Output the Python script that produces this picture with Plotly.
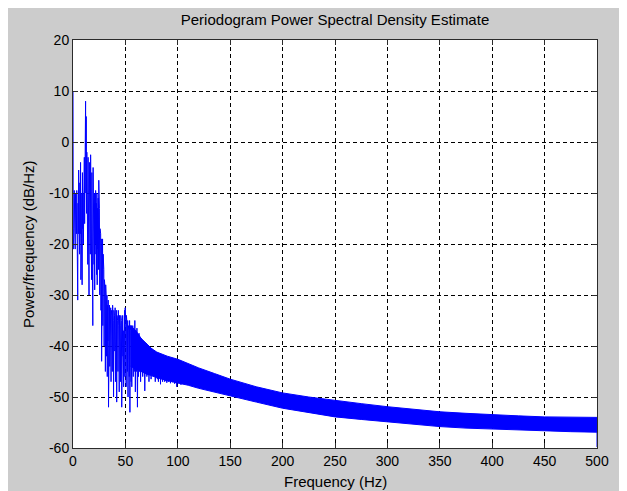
import plotly.graph_objects as go

# Low-frequency periodogram samples (Hz, dB/Hz)
lf_freq = [0.0, 0.3, 0.6, 0.9, 1.2, 1.5, 1.8, 2.1, 2.4, 2.7, 3.0, 3.3, 3.6, 3.9, 4.2, 4.5, 4.8, 5.1, 5.4, 5.7,
           6.0, 6.3, 6.6, 6.9, 7.2, 7.5, 7.8, 8.1, 8.4, 8.7, 9.0, 9.3, 9.6, 9.9, 10.2, 10.5, 10.8, 11.1, 11.4, 11.7,
           12.0, 12.3, 12.6, 12.9, 13.2, 13.5, 13.8, 14.1, 14.4, 14.7, 15.0, 15.3, 15.6, 15.9, 16.2, 16.5, 16.8, 17.1, 17.4, 17.7,
           18.0, 18.3, 18.6, 18.9, 19.2, 19.5, 19.8, 20.1, 20.4, 20.7, 21.0, 21.3, 21.6, 21.9, 22.2, 22.5, 22.8, 23.1, 23.4, 23.7,
           24.0, 24.3, 24.6, 24.9, 25.2, 25.5, 25.8, 26.1, 26.4, 26.7, 27.0, 27.3, 27.6, 27.9, 28.2, 28.5, 28.8, 29.1, 29.4, 29.7,
           30.0, 30.3, 30.6, 30.9, 31.2, 31.5, 31.8, 32.1, 32.4, 32.7, 33.0, 33.3, 33.6, 33.9, 34.2, 34.5, 34.8, 35.1, 35.4, 35.7,
           36.0, 36.3, 36.6, 36.9, 37.2, 37.5, 37.8, 38.1, 38.4, 38.7, 39.0, 39.3, 39.6, 39.9, 40.2, 40.5, 40.8, 41.1, 41.4, 41.7,
           42.0, 42.3, 42.6, 42.9, 43.2, 43.5, 43.8, 44.1, 44.4, 44.7, 45.0, 45.3, 45.6, 45.9, 46.2, 46.5, 46.8, 47.1, 47.4, 47.7,
           48.0, 48.3, 48.6, 48.9, 49.2, 49.5, 49.8, 50.1, 50.4, 50.7, 51.0, 51.3, 51.6, 51.9, 52.2, 52.5, 52.8, 53.1, 53.4, 53.7,
           54.0, 54.3, 54.6, 54.9, 55.2, 55.5, 55.8, 56.1, 56.4, 56.7, 57.0, 57.5, 58.0, 58.5, 59.0, 59.5, 60.0, 60.5, 61.0, 61.5,
           62.0, 62.5, 63.0, 63.5, 64.0, 64.5, 65.0, 65.5, 66.0, 66.5, 67.0, 67.5, 68.0, 68.5, 69.0, 69.5, 70.0, 70.5, 71.0, 71.5,
           72.0, 72.5, 73.0, 73.5, 74.0, 74.5, 75.0, 75.5, 76.0, 76.5, 77.0, 77.5, 78.0, 78.5, 79.0, 79.5, 80.0, 80.5, 81.0, 81.5,
           82.0, 82.5, 83.0, 83.5, 84.0, 84.5, 85.0, 85.5, 86.0, 86.5, 87.0, 87.5, 88.0, 88.5, 89.0, 89.5, 90.0, 91.0, 92.0, 93.0,
           94.0, 95.0, 96.0, 97.0, 98.0, 99.0, 100.0, 101.0, 102.0, 103.0, 104.0, 105.0]
lf_db = [10, -21, -10, -17, -9.5, -18, -11, -21, -10, -16, -12, -18, -9.5, -17, -11, -31, -12, -18, -5.5, -17,
         -10, -22, -8, -18, -4, -27, -9, -19, -10, -28, -6, -17, -10, -20, -9, -18, -3, -16, 3, -12,
         8, -10, 5, -14, -2, -18, -6, -24, -3, -15, -8, -30, -4, -19, -9, -22, -2.5, -17, -10, -27,
         -6, -20, -10, -36, -5, -18, -11, -24, -10, -29, -12, -20, -9.5, -22, -12, -26, -10, -28, -13, -21,
         -11, -25, -7.5, -20, -13, -30, -17, -24, -18, -33, -19, -43, -21, -30, -19, -36, -22, -33, -25, -40,
         -27, -38, -29, -45, -28, -37, -31, -42, -30, -46, -32, -39, -31, -52, -33, -41, -32, -44, -34, -40,
         -32.5, -47, -33, -42, -34, -45, -32, -40, -35, -50, -33, -43, -34, -41, -32.5, -47, -35, -42, -33, -51,
         -34, -43, -35, -45, -33, -41, -36, -49, -34, -42, -36, -47, -34, -43, -35, -52, -36, -44, -34, -42,
         -37, -48, -35, -43, -33, -46, -32.5, -44, -35, -48, -34, -43, -36, -45, -35, -50, -36, -44, -37, -46,
         -35, -53, -36, -45, -37, -47, -36, -48, -37, -44, -36, -46, -38, -45, -35, -49, -37, -45, -36.5, -52,
         -38, -46, -37.5, -45, -39, -47, -38.5, -45, -39, -46, -40, -45, -39.5, -48.8, -40, -45, -39.5, -46, -40.5, -45,
         -40, -47, -40.3, -45.5, -41, -46.5, -40.5, -45.5, -41.5, -46, -41, -45.5, -41.5, -47, -42, -46, -41.5, -46.5, -42, -47,
         -41.8, -46, -42, -47.5, -42.2, -46.5, -42, -47, -42.5, -46.5, -42.2, -47, -42.6, -46.8, -42.3, -47.2, -42.8, -47, -42.5, -47.3,
         -42.7, -47.1, -42.9, -47.4, -42.6, -48, -43, -47.3, -42.8, -47.6, -43.2, -47.5]

# Dense band envelope for the higher frequencies (Hz, dB/Hz)
band_freq = [55, 60, 65, 70, 75, 80, 90, 100, 110, 120, 135, 150, 175, 200, 225, 250, 275, 300,
             325, 350, 375, 400, 425, 450, 475, 500]
band_upper = [-36, -37, -38.5, -39.5, -40.5, -41.2, -42, -42.6, -43.5, -44.3, -45.4, -46.5, -48, -49.2,
              -50, -50.7, -51.3, -51.9, -52.4, -52.9, -53.2, -53.5, -53.7, -53.9, -54.0, -54.0]
band_lower = [-44, -44.5, -45, -45.5, -45.8, -46.2, -46.8, -47.2, -47.7, -48.3, -49, -49.8, -51, -52.2,
              -53.1, -53.9, -54.4, -54.9, -55.4, -55.8, -56.1, -56.3, -56.5, -56.7, -56.8, -56.9]

# Nyquist end point
end_freq = [500, 500]
end_db = [-56.9, -59.8]

x_ticks = [0, 50, 100, 150, 200, 250, 300, 350, 400, 450, 500]
y_ticks = [-60, -50, -40, -30, -20, -10, 0, 10, 20]

BLUE = "#0000ff"
FONT = "Liberation Sans, Arial, sans-serif"

fig = go.Figure()
fig.add_trace(go.Scatter(x=band_freq, y=band_upper, mode="lines",
                         line=dict(color=BLUE, width=1), hoverinfo="skip", showlegend=False))
fig.add_trace(go.Scatter(x=band_freq, y=band_lower, mode="lines", fill="tonexty",
                         fillcolor=BLUE, line=dict(color=BLUE, width=1), hoverinfo="skip", showlegend=False))
fig.add_trace(go.Scatter(x=lf_freq, y=lf_db, mode="lines",
                         line=dict(color=BLUE, width=1), showlegend=False))
fig.add_trace(go.Scatter(x=end_freq, y=end_db, mode="lines",
                         line=dict(color=BLUE, width=1), showlegend=False))

axis_common = dict(
    showgrid=True, gridcolor="black", gridwidth=1, griddash="4px,3px",
    showline=True, linecolor="#2b2b2b", linewidth=1, mirror="allticks",
    ticks="inside", ticklen=5, tickcolor="#2b2b2b", automargin=False,
    zeroline=False, tickfont=dict(family=FONT, size=14, color="black"),
)

W, H = 619, 484
PW, PH = 524, 408  # plot area size in px
fig.update_xaxes(range=[0, 500], tickvals=x_ticks, ticktext=[str(v) for v in x_ticks], **axis_common)
fig.update_yaxes(range=[-60, 20], tickvals=y_ticks, ticktext=[str(v) for v in y_ticks], **axis_common)

fig.update_layout(
    width=W, height=H,
    margin=dict(l=65, r=30, t=32, b=44, pad=0),
    paper_bgcolor="#cccccc", plot_bgcolor="white",
    title=dict(text="Periodogram Power Spectral Density Estimate", x=0.5, xanchor="center",
               xref="paper", y=1 - 12 / H, yanchor="middle",
               font=dict(family=FONT, size=15, color="black")),
    annotations=[
        dict(text="Frequency (Hz)", xref="paper", yref="paper", x=0.5, y=-33 / PH,
             xanchor="center", yanchor="middle", showarrow=False,
             font=dict(family=FONT, size=15, color="black")),
        dict(text="Power/frequency (dB/Hz)", xref="paper", yref="paper", x=-45 / PW, y=0.5,
             xanchor="center", yanchor="middle", textangle=-90, showarrow=False,
             font=dict(family=FONT, size=15, color="black")),
    ],
)

fig.write_html("out.html")
